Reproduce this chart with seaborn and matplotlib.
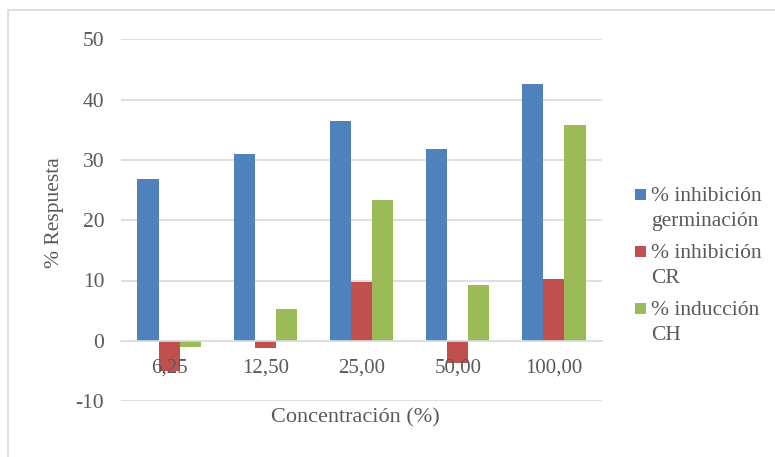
import matplotlib
matplotlib.use("Agg")
import matplotlib.pyplot as plt
from matplotlib.patches import Rectangle
import seaborn as sns
import pandas as pd

# Concentrations tested and the three measured responses (%)
concentraciones = ["6,25", "12,50", "25,00", "50,00", "100,00"]
inhibicion_germinacion = [26.8, 31.0, 36.4, 31.8, 42.6]
inhibicion_cr = [-5.1, -1.2, 9.8, -3.7, 10.2]
induccion_ch = [-1.1, 5.3, 23.3, 9.3, 35.8]

series = ["% inhibición\ngerminación", "% inhibición\nCR", "% inducción\nCH"]
colores = ["#4F81BD", "#C0504D", "#9BBB59"]
y_ticks = [-10, 0, 10, 20, 30, 40, 50]

df = pd.DataFrame({
    "Concentración": concentraciones * 3,
    "Respuesta": inhibicion_germinacion + inhibicion_cr + induccion_ch,
    "Serie": [s for s in series for _ in concentraciones],
})

sns.set_theme(style="white")
plt.rcParams["font.family"] = ["Liberation Serif", "DejaVu Serif"]
texto = "#595959"
grid_c = "#D9D9D9"

W, H = 775, 457
fig = plt.figure(figsize=(W / 100, H / 100), dpi=100)
ax = fig.add_axes([121 / W, 1 - 401 / H, 481 / W, (401 - 39.5) / H])

sns.barplot(data=df, x="Concentración", y="Respuesta", hue="Serie",
            order=concentraciones, hue_order=series, palette=colores,
            width=0.66, gap=0, linewidth=0, saturation=1, legend=False, ax=ax)

ax.set_ylim(-10, 50)
ax.set_xlim(-0.5, len(concentraciones) - 0.5)
ax.set_yticks(y_ticks)
ax.set_yticklabels([str(v) for v in y_ticks])
for v in y_ticks:
    if v != 0:
        ax.axhline(v, color=grid_c, lw=1.2, zorder=0)

for s in ["top", "right", "left"]:
    ax.spines[s].set_visible(False)
ax.spines["bottom"].set_position(("data", 0))
ax.spines["bottom"].set_color(grid_c)
ax.spines["bottom"].set_linewidth(1.2)
ax.spines["bottom"].set_zorder(3)
ax.set_axisbelow(False)

ax.tick_params(axis="x", length=0, pad=13, labelsize=15, labelcolor=texto)
ax.tick_params(axis="y", length=0, pad=12, labelsize=15.5, labelcolor=texto)
for lab in ax.get_xticklabels():
    lab.set_zorder(5)

ax.set_xlabel("")
ax.set_ylabel("")
fig.text(355 / W, 1 - 418 / H, "Concentración (%)", ha="center", va="center",
         fontsize=16, color=texto)
fig.text(55 / W, 1 - 213 / H, "% Respuesta", ha="center", va="center",
         rotation=90, fontsize=15.5, color=texto)

# legend: square swatch beside the first line of each two-line label
for i, (nombre, color) in enumerate(zip(series, colores)):
    y0 = 194 + 57 * i
    fig.patches.append(Rectangle((635 / W, 1 - (y0 + 5.5) / H), 11 / W, 11 / H,
                                 transform=fig.transFigure,
                                 facecolor=color, edgecolor="none"))
    for j, linea in enumerate(nombre.split("\n")):
        fig.text(651 / W, 1 - (y0 + 25 * j) / H, linea, ha="left",
                 va="center_baseline", fontsize=15.5, color=texto)

# light frame around the chart area
fig.patches.append(Rectangle((8 / W, -0.05), 1.1, 1 - 10 / H + 0.05,
                             transform=fig.transFigure, fill=False,
                             edgecolor=grid_c, lw=1.2))

fig.savefig("out.png", dpi=100)
